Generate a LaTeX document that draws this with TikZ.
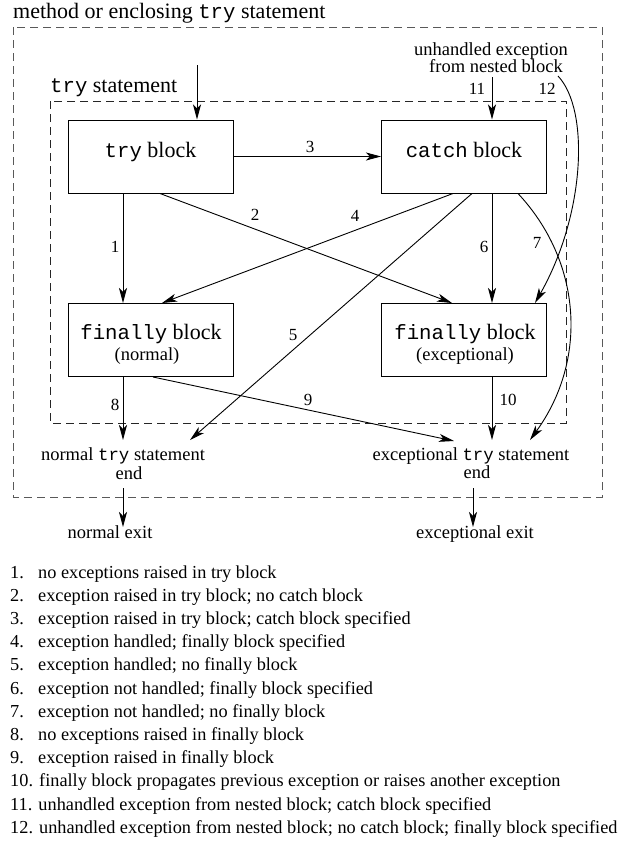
\documentclass[tikz,border=0pt]{standalone}
\usepackage{fontspec}
\setmainfont{Liberation Serif}
\setmonofont{Liberation Mono}[Scale=0.94]
\usetikzlibrary{arrows.meta}
\begin{document}
\begin{tikzpicture}[x=1pt,y=-1pt,
  blk/.style={draw, line width=1pt, minimum width=165pt, minimum height=73pt, inner sep=0pt},
  big/.style={font=\fontsize{22}{26}\selectfont, inner sep=0pt},
  small/.style={font=\fontsize{18.5}{20}\selectfont, inner sep=0pt},
  num/.style={font=\fontsize{17}{20}\selectfont, inner sep=0pt},
  leg/.style={font=\fontsize{18.3}{22}\selectfont, inner sep=0pt, anchor=base west},
  conn/.style={line width=0.9pt, -{Stealth[length=15pt,width=8pt,inset=4pt]}},
  outerbox/.style={draw=black!65, line width=0.9pt, dash pattern=on 8pt off 5pt},
  innerbox/.style={draw=black!85, line width=0.9pt, dash pattern=on 8pt off 5pt},
]
\useasboundingbox (0,0) rectangle (619,849);

% dashed enclosures
\draw[outerbox] (13,27) rectangle (602,497);
\draw[innerbox] (50,101) rectangle (566,423);

% titles
\node[big, anchor=base west] (title) at (13,18) {method or enclosing \texttt{try} statement};
\node[big, anchor=base west] (trylab) at (50,92) {\texttt{try} statement};

% blocks
\node[blk] (tryb) at (150.5,156.5) {};
\node[blk] (catchb) at (464,156.5) {};
\node[blk] (finn) at (150.5,340) {};
\node[blk] (finx) at (464,340) {};

\node[big, anchor=base] (trytxt) at (150.5,157) {\texttt{try} block};
\node[big, anchor=base] (catchtxt) at (464,157) {\texttt{catch} block};
\node[big, anchor=base] (finntxt) at (151,339.5) {\texttt{finally} block};
\node[small, anchor=base] (finnsub) at (147,360.5) {(normal)};
\node[big, anchor=base] (finxtxt) at (465,339) {\texttt{finally} block};
\node[small, anchor=base] (finxsub) at (465,360) {(exceptional)};

% other texts
\node[small, anchor=base] (unh1) at (491,55) {unhandled exception};
\node[small, anchor=base] (unh2) at (496,72) {from nested block};
\node[small, anchor=base] (nend1) at (123,460) {normal \texttt{try} statement};
\node[small, anchor=base] (nend2) at (129,479) {end};
\node[small, anchor=base] (xend1) at (471,460) {exceptional \texttt{try} statement};
\node[small, anchor=base] (xend2) at (477,478) {end};
\node[small, anchor=base] (nexit) at (110,538) {normal exit};
\node[small, anchor=base] (xexit) at (475,538) {exceptional exit};

% free ends
\coordinate (instart) at (197,65);
\coordinate (c11) at (492,77);
\coordinate (c12) at (558,76);
\coordinate (t8) at (123,440);
\coordinate (t5) at (190,440);
\coordinate (t9) at (454,441);
\coordinate (t10) at (492,440);
\coordinate (t7) at (530,440);
\coordinate (ns) at (123,488);
\coordinate (nt) at (123,527);
\coordinate (xs) at (473,488);
\coordinate (xt) at (473,527);

% connectors
\draw[conn] (instart) -- ([xshift=46.5pt]tryb.north);
\draw[conn] (c11) -- ([xshift=28pt]catchb.north);
\draw[conn] (tryb.east) -- (catchb.west);
\draw[conn] ([xshift=-27.5pt]tryb.south) -- ([xshift=-27.5pt]finn.north);
\draw[conn] ([xshift=9.5pt]tryb.south) -- ([xshift=-12pt]finx.north);
\draw[conn] ([xshift=-11pt]catchb.south) -- ([xshift=11.5pt]finn.north);
\draw[conn] ([xshift=8pt]catchb.south) -- (t5);
\draw[conn] ([xshift=28pt]catchb.south) -- ([xshift=28pt]finx.north);
\draw[conn] ([xshift=54pt]catchb.south) .. controls (582,262) and (588,360) .. (t7);
\draw[conn] ([xshift=-27.5pt]finn.south) -- (t8);
\draw[conn] ([xshift=2.5pt]finn.south) -- (t9);
\draw[conn] ([xshift=28pt]finx.south) -- (t10);
\draw[conn] (c12) .. controls (590,110) and (585,215) .. ([xshift=71pt]finx.north);
\draw[conn] (ns) -- (nt);
\draw[conn] (xs) -- (xt);

% numbers
\node[num] (n1) at (115,247) {1};
\node[num] (n2) at (255,215) {2};
\node[num] (n3) at (310,147) {3};
\node[num] (n4) at (355,216) {4};
\node[num] (n5) at (293,335) {5};
\node[num] (n6) at (484,247) {6};
\node[num] (n7) at (537,243) {7};
\node[num] (n8) at (115,405) {8};
\node[num] (n9) at (308,400) {9};
\node[num] (n10) at (508,400) {10};
\node[num] (n11) at (477,89) {11};
\node[num] (n12) at (547,89) {12};

% legend
\node[leg] (l1) at (10,578.0) {\makebox[28pt][l]{1.}no exceptions raised in try block};
\node[leg] (l2) at (10,601.2) {\makebox[28pt][l]{2.}exception raised in try block; no catch block};
\node[leg] (l3) at (10,624.4) {\makebox[28pt][l]{3.}exception raised in try block; catch block specified};
\node[leg] (l4) at (10,647.6) {\makebox[28pt][l]{4.}exception handled; finally block specified};
\node[leg] (l5) at (10,670.8) {\makebox[28pt][l]{5.}exception handled; no finally block};
\node[leg] (l6) at (10,694.0) {\makebox[28pt][l]{6.}exception not handled; finally block specified};
\node[leg] (l7) at (10,717.2) {\makebox[28pt][l]{7.}exception not handled; no finally block};
\node[leg] (l8) at (10,740.4) {\makebox[28pt][l]{8.}no exceptions raised in finally block};
\node[leg] (l9) at (10,763.6) {\makebox[28pt][l]{9.}exception raised in finally block};
\node[leg] (l10) at (10,786.8) {10. finally block propagates previous exception or raises another exception};
\node[leg] (l11) at (10,810.0) {11. unhandled exception from nested block; catch block specified};
\node[leg] (l12) at (10,833.2) {12. unhandled exception from nested block; no catch block; finally block specified};
\end{tikzpicture}
\end{document}
